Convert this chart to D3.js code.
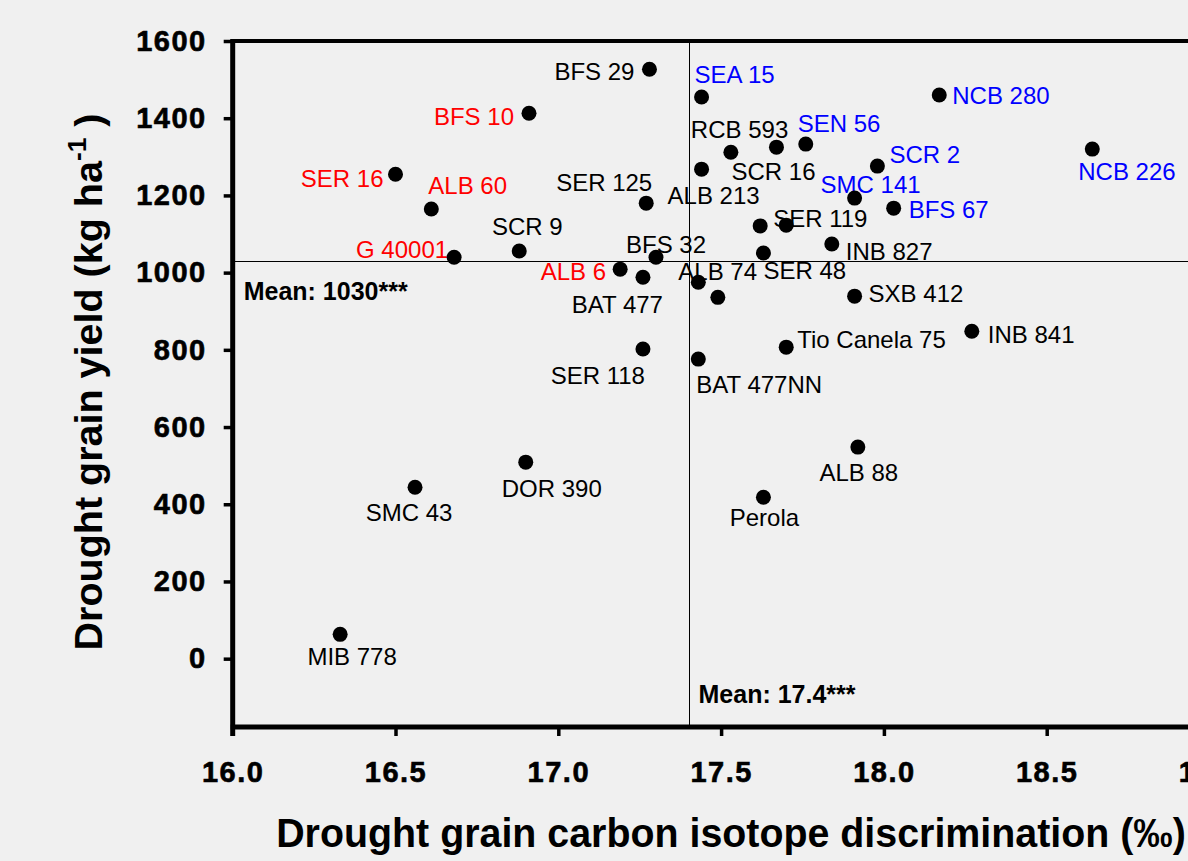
<!DOCTYPE html>
<html>
<head>
<meta charset="utf-8">
<script src="https://cdn.jsdelivr.net/npm/d3@7"></script>
<style>
  html, body { margin: 0; padding: 0; background: #f0f0f0; }
  svg { display: block; font-family: 'Liberation Sans', Arial, sans-serif; }
</style>
</head>
<body>
<div id="mount"></div>
<script>
'use strict';

// genotypes, drought grain carbon isotope discrimination (‰) and drought yield (kg/ha)
const genotypes = [
  'BFS 29', 'SEA 15', 'BFS 10', 'NCB 280', 'NCB 226', 'RCB 593', 'SCR 16', 'SEN 56',
  'ALB 213', 'SCR 2', 'SMC 141', 'BFS 67', 'SER 119', '', 'INB 827', 'SER 48',
  'SER 16', 'ALB 60', 'SER 125', 'SCR 9', 'G 40001', 'BFS 32', 'ALB 6', 'BAT 477',
  'ALB 74', '', 'SXB 412', 'SER 118', 'BAT 477NN', 'Tio Canela 75', 'INB 841', 'ALB 88',
  'Perola', 'DOR 390', 'SMC 43', 'MIB 778'
];
const carbonDiscrimination = [
  17.28, 17.44, 16.91, 18.17, 18.64, 17.53, 17.67, 17.76,
  17.44, 17.98, 17.91, 18.03, 17.62, 17.70, 17.84, 17.63,
  16.50, 16.61, 17.27, 16.88, 16.68, 17.30, 17.19, 17.26,
  17.43, 17.49, 17.91, 17.26, 17.43, 17.70, 18.27, 17.92,
  17.63, 16.90, 16.56, 16.33
];
const grainYield = [
  1527, 1455, 1413, 1460, 1320, 1312, 1325, 1333,
  1268, 1276, 1193, 1167, 1121, 1123, 1074, 1051,
  1255, 1165, 1180, 1056, 1040, 1040, 1009, 988,
  975, 936, 939, 802, 776, 807, 848, 548,
  418, 509, 444, 63
];
// 'red' = highlighted low-discrimination genotypes, 'blue' = high-discrimination ones
const groups = [
  'none', 'blue', 'red', 'blue', 'blue', 'none', 'none', 'blue',
  'none', 'blue', 'blue', 'blue', 'none', 'none', 'none', 'none',
  'red', 'red', 'none', 'none', 'red', 'none', 'red', 'none',
  'none', 'none', 'none', 'none', 'none', 'none', 'none', 'none',
  'none', 'none', 'none', 'none'
];

const meanCID = 17.4;
const meanYield = 1030;
const meanCIDLabel = 'Mean: 17.4***';
const meanYieldLabel = 'Mean: 1030***';

const xTicks = [16.0, 16.5, 17.0, 17.5, 18.0, 18.5, 19.0];
const yTicks = [0, 200, 400, 600, 800, 1000, 1200, 1400, 1600];

// label placement next to each dot: [anchor, dx, dy(baseline)]
const labelPlacement = [
  ['end', -15, 11], ['start', -7, -14], ['end', -15, 12], ['start', 13, 9],
  ['start', -14, 31], ['start', -40, -14], ['start', -45, 33], ['start', -8, -12],
  ['start', -34, 35], ['start', 12, -3], ['start', -34, -5], ['start', 15, 10],
  ['start', 13, 1], ['start', 0, 0], ['start', 14, 16], ['start', 0, 26],
  ['end', -12, 13], ['start', -3, -15], ['end', 6, -12], ['middle', 8, -16],
  ['end', -6, 1], ['start', -30, -4], ['end', -14, 11], ['end', 20, 36],
  ['start', -20, -2], ['start', 0, 0], ['start', 14, 6], ['end', 2, 35],
  ['start', -2, 34], ['start', 11, 1], ['start', 16, 12], ['middle', 1, 34],
  ['middle', 1, 29], ['start', -24, 35], ['middle', -6, 34], ['middle', 12, 31]
];
const labelColor = { none: '#000000', red: '#ff0000', blue: '#0000ff' };

const width = 1188, height = 861;

const x = d3.scaleLinear().domain([16, 19]).range([232.7, 1209.5]);
const y = d3.scaleLinear().domain([-177, 1600]).range([727, 41]);

const svg = d3.select('#mount').append('svg')
    .attr('width', width)
    .attr('height', height);

svg.append('rect')
    .attr('width', width)
    .attr('height', height)
    .attr('fill', '#f0f0f0');

const points = genotypes.map((name, i) => ({
  name,
  cid: carbonDiscrimination[i],
  yield: grainYield[i],
  group: groups[i],
  place: labelPlacement[i]
}));

// mean lines
const my = Math.round(y(meanYield)) + 0.5;
const mx = Math.round(x(meanCID)) + 0.5;
svg.append('line')
    .attr('x1', x(16)).attr('x2', width)
    .attr('y1', my).attr('y2', my)
    .attr('stroke', '#000').attr('stroke-width', 1);
svg.append('line')
    .attr('x1', mx).attr('x2', mx)
    .attr('y1', y(1600)).attr('y2', y(-177))
    .attr('stroke', '#000').attr('stroke-width', 1);

svg.append('text')
    .attr('x', x(16) + 11)
    .attr('y', y(meanYield) + 39)
    .attr('font-size', 25).attr('font-weight', 'bold')
    .text(meanYieldLabel);
svg.append('text')
    .attr('x', x(meanCID) + 10)
    .attr('y', y(-177) - 24)
    .attr('font-size', 25).attr('font-weight', 'bold')
    .text(meanCIDLabel);

// axes
const yAxis = svg.append('g')
    .attr('transform', `translate(${x(16)},0)`)
    .call(d3.axisLeft(y).tickValues(yTicks).tickSize(9).tickPadding(17).tickFormat(d3.format('d')));
const xAxis = svg.append('g')
    .attr('transform', `translate(0,${y(-177)})`)
    .call(d3.axisBottom(x).tickValues(xTicks).tickSize(9).tickPadding(25).tickFormat(d3.format('.1f')));

[yAxis, xAxis].forEach(ax => {
  ax.select('.domain').remove();
  ax.selectAll('.tick line').attr('stroke', '#000').attr('stroke-width', 3.5);
  ax.selectAll('.tick text')
      .attr('fill', '#000')
      .attr('stroke', '#000')
      .attr('stroke-width', 0.6)
      .attr('font-family', "'Liberation Sans', Arial, sans-serif")
      .attr('font-size', 29)
      .attr('font-weight', 'bold')
      .attr('letter-spacing', 1.5);
});

// frame: thick axis lines and top border
svg.append('line')
    .attr('x1', x(16)).attr('x2', x(16))
    .attr('y1', y(1600) - 2).attr('y2', y(-177) + 9)
    .attr('stroke', '#000').attr('stroke-width', 5);
svg.append('line')
    .attr('x1', x(16) - 2).attr('x2', width)
    .attr('y1', y(-177)).attr('y2', y(-177))
    .attr('stroke', '#000').attr('stroke-width', 5);
svg.append('line')
    .attr('x1', x(16)).attr('x2', width)
    .attr('y1', y(1600)).attr('y2', y(1600))
    .attr('stroke', '#000').attr('stroke-width', 4);

// labels first, dots drawn over them
svg.append('g').selectAll('text')
    .data(points.filter(d => d.name))
  .enter().append('text')
    .attr('x', d => x(d.cid) + d.place[1])
    .attr('y', d => y(d.yield) + d.place[2])
    .attr('text-anchor', d => d.place[0])
    .attr('font-size', 24)
    .attr('fill', d => labelColor[d.group])
    .text(d => d.name);

svg.append('g').selectAll('circle')
    .data(points)
  .enter().append('circle')
    .attr('cx', d => x(d.cid))
    .attr('cy', d => y(d.yield))
    .attr('r', 7.5)
    .attr('fill', '#000');

// axis titles, squeezed horizontally to the reference width
function fitText(sel, target) {
  const w = sel.node().getBBox().width;
  sel.attr('transform', `scale(${target / w},1)`);
}

const xTitle = svg.append('g')
    .attr('transform', 'translate(731,847)')
  .append('text')
    .attr('text-anchor', 'middle')
    .attr('font-size', 40)
    .attr('font-weight', 'bold')
    .text('Drought grain carbon isotope discrimination (‰)');
fitText(xTitle, 910);

const yTitle = svg.append('g')
    .attr('transform', 'translate(102,382) rotate(-90)')
  .append('text')
    .attr('text-anchor', 'middle')
    .attr('font-size', 39)
    .attr('font-weight', 'bold');
yTitle.append('tspan').text('Drought grain yield (kg ha');
yTitle.append('tspan').attr('font-size', 26).attr('dy', -16).text('-1');
yTitle.append('tspan').attr('dy', 16).text(' )');
fitText(yTitle, 537);
</script>
</body>
</html>
